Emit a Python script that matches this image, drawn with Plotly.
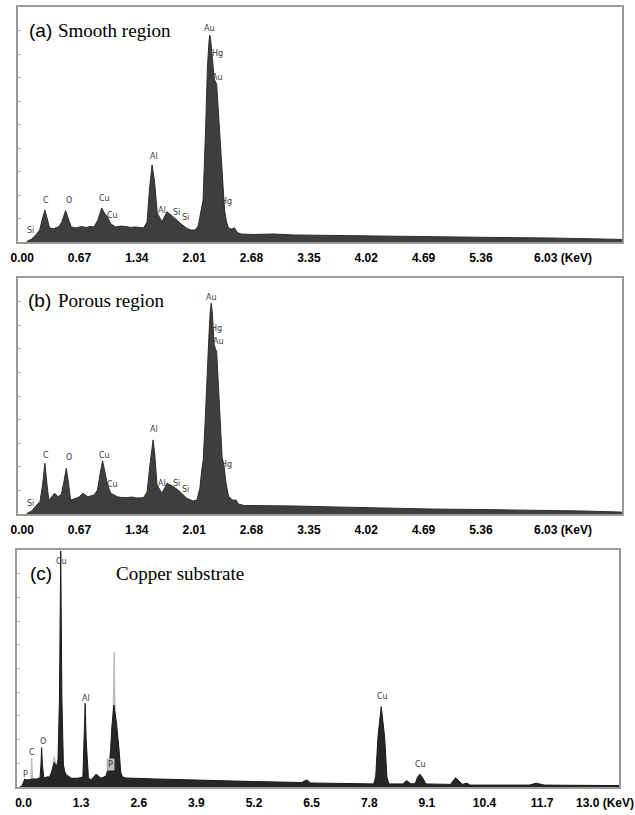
import plotly.graph_objects as go

W, H = 635, 815

# ---------------- data (keV, counts in arbitrary units 0-100) ----------------
a_kev = [0.054, 0.112, 0.170, 0.205, 0.233, 0.266, 0.291, 0.320, 0.366, 0.424, 0.464, 0.508, 0.540, 0.574,
         0.632, 0.690, 0.748, 0.794, 0.840, 0.886, 0.929, 0.961, 0.998, 1.036, 1.094, 1.152, 1.210, 1.267,
         1.325, 1.418, 1.460, 1.487, 1.518, 1.545, 1.579, 1.634, 1.692, 1.741, 1.807, 1.857, 1.923, 1.972,
         2.019, 2.057, 2.088, 2.114, 2.142, 2.165, 2.183, 2.192, 2.203, 2.215, 2.232, 2.244, 2.273, 2.307,
         2.336, 2.348, 2.365, 2.388, 2.411, 2.446, 2.481, 2.515, 2.561, 2.711, 2.942, 3.173, 3.520, 3.983,
         4.445, 5.022, 5.600, 6.178, 6.755, 7.010]
a_cnt = [0.2, 1.3, 3.4, 5.1, 9.4, 13.6, 10.2, 6.0, 5.7, 6.4, 8.5, 13.4, 9.8, 6.4,
         6.0, 6.6, 6.2, 6.6, 6.4, 9.4, 14.5, 12.3, 10.6, 7.7, 6.4, 6.8, 6.6, 6.2,
         6.4, 6.0, 8.5, 22.1, 32.8, 26.4, 12.3, 8.6, 12.9, 11.5, 9.4, 7.7, 5.8, 5.1,
         5.1, 6.8, 12.8, 17.9, 46.4, 74.5, 85.1, 88.1, 86.0, 80.9, 75.3, 69.5, 67.0, 46.4,
         26.4, 18.7, 13.6, 8.5, 6.0, 5.5, 6.0, 4.0, 3.4, 3.2, 3.4, 3.0, 2.8, 2.6,
         2.3, 2.1, 1.9, 1.7, 1.3, 1.1]

b_kev = [0.054, 0.112, 0.170, 0.208, 0.239, 0.266, 0.291, 0.312, 0.343, 0.381, 0.421, 0.459, 0.488, 0.516,
         0.540, 0.566, 0.632, 0.667, 0.709, 0.767, 0.843, 0.880, 0.915, 0.940, 0.967, 0.998, 1.036, 1.114,
         1.163, 1.221, 1.279, 1.337, 1.418, 1.460, 1.493, 1.530, 1.550, 1.576, 1.634, 1.692, 1.768, 1.845,
         1.923, 1.999, 2.042, 2.076, 2.099, 2.116, 2.139, 2.157, 2.180, 2.197, 2.209, 2.221, 2.232, 2.244,
         2.273, 2.303, 2.336, 2.359, 2.382, 2.411, 2.457, 2.500, 2.527, 2.596, 2.827, 3.173, 3.636, 4.214,
         4.792, 5.369, 5.947, 6.525, 7.010]
b_cnt = [0.2, 1.3, 3.8, 5.2, 12.3, 21.5, 12.3, 5.9, 7.2, 8.8, 7.3, 8.5, 13.6, 19.4,
         13.6, 5.9, 6.7, 7.2, 8.8, 7.3, 8.1, 10.2, 17.8, 22.5, 17.8, 12.3, 8.8, 7.3,
         7.0, 6.9, 7.2, 6.8, 6.9, 9.4, 20.8, 31.4, 25.0, 12.3, 8.8, 13.0, 11.6, 9.4,
         6.7, 5.5, 5.9, 10.9, 18.6, 22.9, 39.8, 56.8, 73.7, 85.6, 89.3, 85.6, 78.0, 71.6,
         68.6, 47.0, 24.3, 20.3, 13.1, 7.6, 5.9, 5.9, 4.2, 3.6, 3.6, 3.4, 3.0, 2.5,
         2.1, 1.9, 1.7, 1.3, 0.8]

c_kev = [-0.083, -0.038, 0.029, 0.074, 0.163, 0.208, 0.297, 0.371, 0.393, 0.408, 0.426, 0.460, 0.520, 0.587,
         0.632, 0.692, 0.743, 0.777, 0.810, 0.839, 0.866, 0.900, 0.933, 0.967, 1.078, 1.228, 1.339, 1.368,
         1.391, 1.413, 1.464, 1.525, 1.592, 1.636, 1.692, 1.748, 1.859, 1.933, 1.964, 1.993, 2.038, 2.098,
         2.156, 2.194, 2.232, 2.306, 2.975, 4.092, 5.208, 6.279, 6.386, 6.480, 7.217, 7.902, 7.946, 7.998,
         8.071, 8.147, 8.199, 8.243, 8.556, 8.645, 8.741, 8.839, 8.891, 8.942, 9.002, 9.076, 9.634, 9.746,
         9.851, 9.895, 10.007, 10.074, 11.413, 11.569, 11.754, 13.44]
c_cnt = [0.0, 0.4, 3.4, 3.0, 3.2, 3.4, 3.4, 3.8, 9.3, 16.6, 9.3, 3.8, 4.2, 4.3,
         6.3, 10.5, 8.5, 11.4, 36.7, 99.6, 36.7, 9.3, 6.3, 5.1, 3.7, 3.7, 4.2, 19.8,
         35.3, 19.8, 3.8, 3.0, 4.6, 5.4, 4.6, 3.7, 4.6, 9.3, 15.6, 25.4, 34.6, 27.0,
         15.6, 5.9, 4.3, 3.8, 3.4, 2.7, 2.3, 1.9, 3.0, 1.7, 1.5, 1.3, 4.3, 21.2,
         33.9, 21.2, 4.3, 1.3, 1.3, 2.7, 1.3, 1.5, 4.2, 5.4, 4.0, 1.3, 1.1, 3.9,
         2.1, 1.1, 1.6, 0.8, 0.8, 1.6, 0.8, 0.6]

# lighter overlapping spectrum in panel (c) (only its peaks rise above the dark one)
c2_kev = [-0.083, 0.16, 0.185, 0.21, 0.62, 0.66, 0.692, 0.74, 0.76, 1.90, 1.95, 2.02, 2.045, 2.07,
          2.12, 2.25, 2.30]
c2_cnt = [0.0, 3.0, 12.2, 3.0, 3.0, 9.0, 12.8, 8.5, 2.0, 2.0, 5.0, 30.0, 57.1, 30.0,
          12.0, 3.0, 0.0]

ab_ticks = [0.00, 0.67, 1.34, 2.01, 2.68, 3.35, 4.02, 4.69, 5.36]
ab_ticktext = ["0.00", "0.67", "1.34", "2.01", "2.68", "3.35", "4.02", "4.69", "5.36"]
ab_last_tick = (6.03, "6.03 (KeV)")
c_ticks = [0.0, 1.3, 2.6, 3.9, 5.2, 6.5, 7.8, 9.1, 10.4, 11.7]
c_ticktext = ["0.0", "1.3", "2.6", "3.9", "5.2", "6.5", "7.8", "9.1", "10.4", "11.7"]
c_last_tick = (13.0, "13.0 (KeV)")

a_labels = [("Si", 0.092, 4.7), ("C", 0.277, 17.6), ("O", 0.543, 17.6), ("Cu", 0.967, 18.3),
            ("Cu", 1.056, 11.1), ("Al", 1.537, 36.3), ("Al", 1.634, 13.6), ("Si", 1.807, 12.5),
            ("Si", 1.903, 10.5), ("Hg", 2.385, 17.4), ("Au", 2.192, 90.9), ("Hg", 2.288, 80.3),
            ("Au", 2.288, 70.1)]
b_labels = [("Si", 0.092, 4.5), ("C", 0.274, 25.0), ("O", 0.543, 23.9), ("Cu", 0.967, 25.0),
            ("Cu", 1.056, 12.3), ("Al", 1.537, 35.6), ("Al", 1.634, 13.0), ("Si", 1.807, 13.0),
            ("Si", 1.903, 10.2), ("Hg", 2.385, 20.8), ("Au", 2.209, 91.8), ("Hg", 2.266, 78.7),
            ("Au", 2.289, 73.0)]
c_labels = [("Cu", 0.855, 95.1), ("P", 0.051, 5.1), ("C", 0.201, 14.6), ("O", 0.446, 19.1),
            ("Al", 1.413, 37.4), ("Cu", 8.109, 38.1), ("Cu", 8.964, 9.3)]
c_boxed_label = ("P", 1.971, 9.3)

titles = [("(a)", "Smooth region"), ("(b)", "Porous region"), ("(c)", "Copper substrate")]

# ---------------- layout helpers ----------------
def xdom(l, r):
    return [l / W, r / W]

def ydom(bot, top):
    return [1 - bot / H, 1 - top / H]

fig = go.Figure()

DARK_FILL = "#3e3e3e"
DARK_LINE = "#2e2e2e"

fig.add_trace(go.Scatter(x=a_kev, y=a_cnt, mode="lines", fill="tozeroy",
                         line=dict(color=DARK_LINE, width=1), fillcolor=DARK_FILL,
                         xaxis="x", yaxis="y", showlegend=False, hoverinfo="skip"))
fig.add_trace(go.Scatter(x=b_kev, y=b_cnt, mode="lines", fill="tozeroy",
                         line=dict(color=DARK_LINE, width=1), fillcolor=DARK_FILL,
                         xaxis="x2", yaxis="y2", showlegend=False, hoverinfo="skip"))
fig.add_trace(go.Scatter(x=c2_kev, y=c2_cnt, mode="lines", fill="tozeroy",
                         line=dict(color="#b8b8b8", width=1), fillcolor="#c4c4c4",
                         xaxis="x3", yaxis="y3", showlegend=False, hoverinfo="skip"))
fig.add_trace(go.Scatter(x=c_kev, y=c_cnt, mode="lines", fill="tozeroy",
                         line=dict(color="#1a1a1a", width=1), fillcolor="#262626",
                         xaxis="x3", yaxis="y3", showlegend=False, hoverinfo="skip"))

tickfont = dict(family="Liberation Sans, Arial, sans-serif", size=12, color="black", weight="bold")
frame_col = "#9a9a9a"
TICKLEN = 4

def xaxis(dom, rng, tv, tt):
    return dict(domain=dom, range=rng, tickvals=tv, ticktext=tt, tickfont=tickfont,
                ticks="outside", ticklen=TICKLEN, tickcolor="rgba(0,0,0,0)",
                showline=True, mirror=True, linecolor=frame_col, linewidth=2,
                showgrid=False, zeroline=False, fixedrange=True)

def yaxis(dom, anchor):
    return dict(domain=dom, range=[0, 100], anchor=anchor, tickvals=list(range(10, 100, 10)),
                showticklabels=False, ticks="inside", ticklen=3, tickcolor="#b0b0b0",
                showline=True, mirror=True, linecolor=frame_col, linewidth=2,
                showgrid=False, zeroline=False, fixedrange=True)

fig.update_layout(
    width=W, height=H, margin=dict(l=0, r=0, t=0, b=0),
    paper_bgcolor="white", plot_bgcolor="white",
    xaxis=dict(xaxis(xdom(11, 622), [-0.0497, 7.010], ab_ticks, ab_ticktext), anchor="y"),
    yaxis=yaxis(ydom(242, 7), "x"),
    xaxis2=dict(xaxis(xdom(11, 622), [-0.0497, 7.010], ab_ticks, ab_ticktext), anchor="y2"),
    yaxis2=yaxis(ydom(514, 278), "x2"),
    xaxis3=dict(xaxis(xdom(10, 619), [-0.150, 13.44], c_ticks, c_ticktext), anchor="y3"),
    yaxis3=yaxis(ydom(787, 550), "x3"),
)

ann = []
lab_font = dict(family="DejaVu Sans, Verdana, sans-serif", size=8, color="#3a3a3a")
for labs, xr, yr in [(a_labels, "x", "y"), (b_labels, "x2", "y2"), (c_labels, "x3", "y3")]:
    for t, xv, yv in labs:
        ann.append(dict(text=t, x=xv, y=yv, xref=xr, yref=yr, showarrow=False, font=lab_font))
t, xv, yv = c_boxed_label
ann.append(dict(text=t, x=xv, y=yv, xref="x3", yref="y3", showarrow=False, font=lab_font,
                bgcolor="#bcbcbc", borderpad=1))

# last tick label with unit, placed so the number sits where the reference prints it
for (val, txt), xr, yr, shift in [(ab_last_tick, "x", "y", -6), (ab_last_tick, "x2", "y2", -6),
                                  (c_last_tick, "x3", "y3", -26)]:
    ann.append(dict(text=txt, x=val, y=0, xref=xr, yref=yr, xanchor="left", yanchor="top",
                    xshift=shift, yshift=-TICKLEN - 3, showarrow=False, font=tickfont))

# panel titles
title_pos = [(20, 50, 30), (19, 50, 300), (21, 108, 573)]
for (lab, name), (xl, xn, yc) in zip(titles, title_pos):
    ann.append(dict(text=lab, x=xl / W, y=1 - yc / H, xref="paper", yref="paper", xanchor="left",
                    yanchor="middle", showarrow=False,
                    font=dict(family="Liberation Sans, Arial, sans-serif", size=19, color="black")))
    ann.append(dict(text=name, x=xn / W, y=1 - yc / H, xref="paper", yref="paper", xanchor="left",
                    yanchor="middle", showarrow=False,
                    font=dict(family="Liberation Serif, Times New Roman, serif", size=19, color="black")))

fig.update_layout(annotations=ann)
fig.write_html("out.html")
